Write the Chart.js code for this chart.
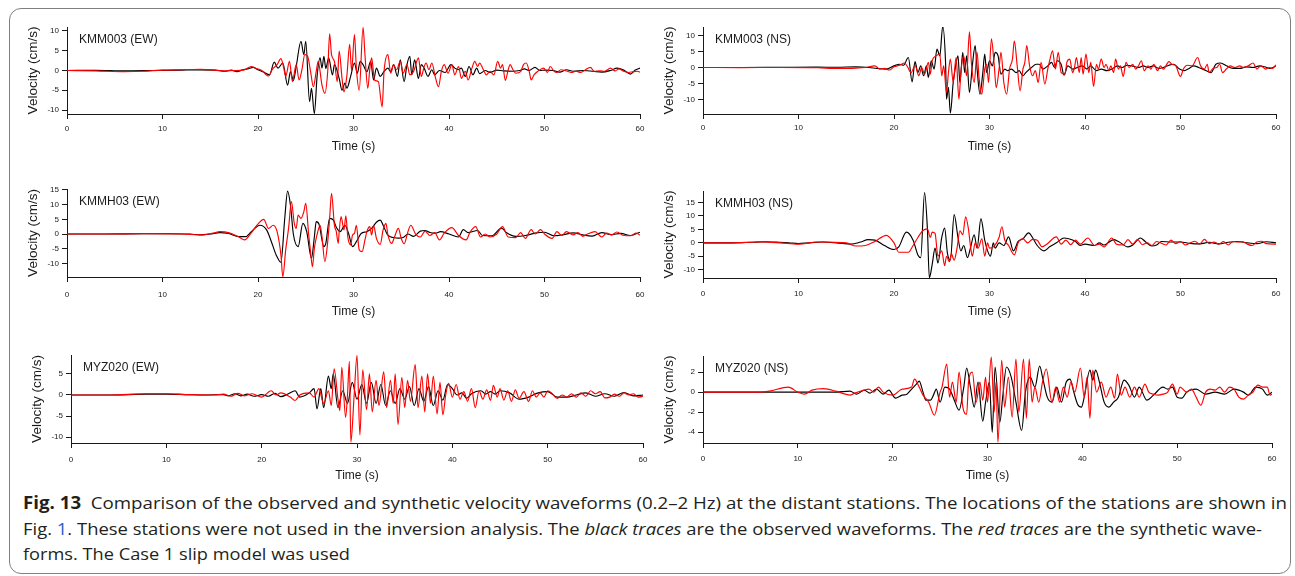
<!DOCTYPE html>
<html>
<head>
<meta charset="utf-8">
<title>Fig. 13 – observed and synthetic velocity waveforms</title>
<script src="https://cdn.jsdelivr.net/npm/chart.js@4.4.1/dist/chart.umd.min.js"></script>
<style>
  html, body { margin: 0; padding: 0; background: #fff; }
  #fig { position: relative; width: 1295px; height: 576px; overflow: hidden; background: #fff; }
  #frame { position: absolute; left: 9px; top: 8px; width: 1282px; height: 566px; box-sizing: border-box;
           border: 1px solid #7f7f7f; border-radius: 12px; }
  #fig canvas { position: absolute; }
  .cap { position: absolute; left: 23px; white-space: nowrap; font-family: "Open Sans", "Noto Sans", sans-serif;
         font-size: 17px; line-height: 22px; color: #231f20; transform-origin: 0 50%; }
  .cap b { font-weight: 700; }
  .cap .lnk { color: #2a62c9; }
</style>
</head>
<body>
<div id="fig">
  <div id="frame"></div>
  <div class="cap" id="cap1" data-w="1264" style="top:492px"><b>Fig. 13</b>&nbsp; Comparison of the observed and synthetic velocity waveforms (0.2–2 Hz) at the distant stations. The locations of the stations are shown in</div>
  <div class="cap" id="cap2" data-w="1239" style="top:518px">Fig. <span class="lnk">1</span>. These stations were not used in the inversion analysis. The <i>black traces</i> are the observed waveforms. The <i>red traces</i> are the synthetic wave-</div>
  <div class="cap" id="cap3" data-w="327" style="top:543px">forms. The Case 1 slip model was used</div>
</div>
<script>
// ---- axis ticks ----------------------------------------------------------
const timeTicks = [0, 10, 20, 30, 40, 50, 60];
const ticksKMM003EW = [-10, -5, 0, 5, 10];
const ticksKMM003NS = [-10, -5, 0, 5, 10];
const ticksKMMH03EW = [-10, -5, 0, 5, 10, 15];
const ticksKMMH03NS = [-10, -5, 0, 5, 10, 15];
const ticksMYZ020EW = [-10, -5, 0, 5];
const ticksMYZ020NS = [-4, -2, 0, 2];

// ---- waveforms: [time (s), velocity (cm/s)] at the turning points ---------
const KMM003_EW_OBS = [[0,0],[3,0.05],[6,-0.1],[9,0],[12,0.1],[14,0.15],[15.5,0.1],[16.5,-0.2],[17.2,0.1],[17.8,-0.3],[18.4,0.2],[18.9,0.4],[19.5,0.8],[20.0,0.2],[20.6,-0.4],[21.2,-1.1],[21.7,2.1],[22.1,0.6],[22.6,1.9],[23.1,-3.7],[23.4,-0.3],[23.7,-2.6],[24.0,1.0],[24.5,7.4],[24.8,4.0],[25.0,7.4],[25.4,-7.9],[25.6,-4.5],[25.9,-10.9],[26.2,-1.1],[26.5,3.2],[26.7,0.6],[26.9,3.6],[27.1,0.5],[27.4,3.2],[27.8,-1.1],[28.0,1.5],[28.5,-2.0],[28.8,-5.0],[29.1,-3.2],[29.3,-4.5],[29.7,-1.5],[30.1,1.9],[30.4,-0.7],[30.7,2.3],[31.0,1.5],[31.4,-0.3],[31.8,2.3],[32.1,-2.4],[32.4,0.6],[32.8,-1.5],[33.2,-0.2],[33.6,0.6],[33.9,-0.3],[34.2,1.5],[34.6,-1.5],[34.9,2.7],[35.3,-2.8],[35.6,1.5],[35.9,3.6],[36.1,-1.1],[36.4,2.7],[36.8,-2.0],[37.1,1.5],[37.4,0.6],[37.8,-1.5],[38.2,0.2],[38.5,-1.1],[39.0,0],[39.6,-0.5],[40.2,1.5],[40.6,0.6],[41.0,0.2],[41.3,0.6],[41.7,-1.5],[42.1,1.0],[42.5,-1.1],[42.9,0.6],[43.2,-0.8],[43.8,0],[44.3,-0.5],[45.0,0.1],[45.7,-0.1],[46.7,-0.2],[47.4,0],[47.9,0.4],[48.4,0],[49.0,0.8],[49.5,0],[50.1,0.1],[50.9,0],[51.6,-0.4],[52.3,0.2],[53.0,-0.2],[54.1,0],[55.1,-0.2],[56.0,-0.4],[56.9,0],[57.6,0.6],[58.3,0.1],[59.0,-0.9],[59.5,0.1],[60,0.6]];
const KMM003_EW_SYN = [[0,0],[3,-0.1],[6,-0.3],[8,-0.2],[10,0.1],[12,0.2],[14,0.3],[15.5,0.1],[16.5,-0.1],[17.5,0.0],[18.5,0.1],[19.3,1.0],[19.8,0.5],[20.4,0],[21.1,-1.4],[21.5,0.3],[22.0,1.5],[22.4,3.0],[22.7,0.6],[22.9,-1.5],[23.3,2.3],[23.6,-2.8],[24.0,1.5],[24.3,-2.4],[24.6,0.2],[24.9,4.0],[25.2,3.6],[25.5,-0.2],[25.8,-4.1],[26.1,-0.2],[26.3,2.3],[26.7,-3.7],[27.0,-5.8],[27.3,-0.2],[27.5,9.3],[27.7,4.0],[28.0,2.3],[28.3,-2.8],[28.5,4.9],[28.8,-2.0],[29.0,-5.4],[29.3,-1.5],[29.6,6.6],[29.8,-0.2],[30.1,9.1],[30.3,0.6],[30.6,-5.0],[31.0,10.9],[31.2,4.0],[31.5,-4.5],[31.7,0.2],[31.9,3.2],[32.2,-2.4],[32.6,-2.8],[33.0,-9.2],[33.2,-0.2],[33.6,4.0],[33.9,-0.7],[34.2,1.5],[34.5,0.2],[34.9,2.3],[35.2,-0.7],[35.6,1.5],[35.9,-1.1],[36.3,-0.2],[36.8,3.2],[37.1,-1.5],[37.4,1.0],[37.6,1.9],[37.9,0.2],[38.2,1.9],[38.6,-2.0],[38.9,-4.1],[39.2,-0.2],[39.5,1.5],[39.9,-0.7],[40.3,1.5],[40.6,-1.1],[41.0,1.0],[41.3,-2.0],[41.7,-0.2],[42.0,-2.4],[42.4,0.6],[42.7,2.3],[43.0,1.0],[43.2,1.9],[43.6,0.2],[43.9,-1.1],[44.3,-0.2],[44.7,-1.1],[45.1,2.3],[45.4,0.6],[45.6,1.5],[45.9,-2.5],[46.2,0.2],[46.4,1.5],[46.7,0.2],[47.0,-0.7],[47.5,-0.3],[47.8,1.5],[48.1,1.9],[48.4,-0.2],[48.6,-2.4],[48.9,-1.1],[49.3,-0.2],[49.9,0.6],[50.3,-0.5],[50.6,1.0],[51.0,-0.2],[51.3,-0.5],[51.7,0.2],[52.4,-0.2],[52.8,-0.5],[53.3,-0.2],[53.8,-0.5],[54.3,0.2],[54.8,0.8],[55.2,-0.2],[55.8,-0.1],[56.3,-0.2],[56.9,0.6],[57.4,-0.1],[57.8,0.4],[58.3,-0.2],[58.8,-0.5],[59.3,-0.3],[59.7,-0.2],[60,-0.4]];

const KMM003_NS_OBS = [[0,0],[4,0],[8,0.05],[12,0.1],[14,0.05],[16,0.2],[17.4,0],[18.2,-0.3],[19.2,-0.5],[20.0,0.5],[20.6,1.0],[21.0,0.7],[21.5,3.1],[21.9,-4.5],[22.2,1.8],[22.5,-1.6],[22.8,0.5],[23.1,-2.6],[23.4,0.5],[23.6,-3.1],[23.9,2.1],[24.2,-0.5],[24.5,5.7],[24.8,3.6],[25.1,12.8],[25.4,1.5],[25.5,-9.9],[25.7,-6.2],[25.9,-14.2],[26.2,-4.7],[26.4,-0.5],[26.7,3.6],[26.9,-4.7],[27.2,4.7],[27.4,-1.6],[27.6,3.6],[27.9,-7.8],[28.2,0.5],[28.5,6.8],[28.7,-0.5],[29.0,-8.3],[29.3,-1.6],[29.5,4.2],[29.7,-1.6],[30.0,2.1],[30.3,0.5],[30.6,4.7],[30.9,3.6],[31.2,-2.1],[31.6,-0.5],[31.9,-1.0],[32.3,-0.5],[32.8,-1.6],[33.1,-1.0],[33.5,-2.6],[33.8,-1.6],[34.4,0],[34.9,1.0],[35.2,1.0],[35.6,-0.5],[36.1,0.5],[36.5,1.6],[36.8,0],[37.1,2.1],[37.5,1.0],[37.8,-2.4],[38.2,0.5],[38.7,-0.5],[39.2,0],[39.7,0.5],[40.2,-0.5],[40.6,0.5],[41.2,-1.0],[41.7,-0.5],[42.3,-1.0],[42.8,-0.5],[43.4,0.5],[43.9,0],[44.4,0.7],[44.9,0.5],[45.6,0],[46.1,0.5],[46.6,0],[47.2,0.5],[47.7,-0.3],[48.2,0],[48.8,0.7],[49.3,1.0],[49.9,-0.5],[50.4,-1.0],[50.9,-0.3],[51.4,0.5],[51.9,0],[52.7,-1.0],[53.2,-1.6],[53.7,1.0],[54.2,1.4],[54.8,0.5],[55.5,-0.3],[56.2,-0.3],[56.9,0.2],[57.6,0],[58.3,0.5],[58.8,0.2],[59.4,-0.3],[60,0.5]];
const KMM003_NS_SYN = [[0,0],[4,-0.05],[8,0],[12,-0.1],[14,-0.3],[16,-0.2],[17.0,0],[18.0,0.5],[18.5,-0.5],[19.0,-0.3],[19.5,-0.8],[20.0,0.2],[20.6,0.7],[21.1,1.4],[21.4,0.3],[21.8,-1.6],[22.2,0.7],[22.6,-2.6],[22.9,0],[23.2,-2.1],[23.6,1.6],[23.8,-2.1],[24.0,2.1],[24.4,3.6],[24.8,4.2],[25.0,-2.6],[25.2,0.5],[25.5,-7.8],[25.7,-1.6],[25.9,2.6],[26.2,-4.7],[26.5,3.1],[26.8,-9.9],[27.0,-1.6],[27.3,3.6],[27.6,-2.6],[27.9,11.1],[28.1,1.6],[28.4,-4.7],[28.7,4.7],[28.9,-3.1],[29.2,-8.3],[29.5,-0.5],[29.7,1.0],[29.9,-4.7],[30.2,8.9],[30.5,0.5],[30.7,-6.3],[31.0,-0.5],[31.2,4.7],[31.5,-4.7],[31.8,-8.3],[32.1,-0.5],[32.4,2.6],[32.6,8.3],[32.9,0.5],[33.2,-7.3],[33.5,-0.5],[33.7,1.6],[33.9,6.8],[34.2,0.5],[34.5,-2.6],[34.8,-1.0],[35.1,-4.7],[35.4,1.6],[35.8,-5.2],[36.1,-0.5],[36.3,2.1],[36.6,5.2],[36.9,-0.5],[37.2,4.7],[37.5,-1.6],[37.9,-2.1],[38.1,1.6],[38.4,2.6],[38.7,-1.6],[38.9,0],[39.1,3.1],[39.4,-1.6],[39.6,3.1],[39.8,-2.1],[40.1,4.2],[40.4,-1.6],[40.6,1.6],[40.9,-5.9],[41.2,1.0],[41.4,-0.5],[41.7,2.6],[42.0,0],[42.2,1.0],[42.5,-1.0],[42.7,0.5],[43.0,-1.6],[43.2,2.6],[43.5,-0.5],[43.7,0.5],[44.0,-2.8],[44.3,1.6],[44.6,0],[45.0,1.0],[45.3,-0.5],[45.6,0.5],[45.9,2.1],[46.2,-1.0],[46.6,0.5],[46.9,-0.5],[47.2,1.0],[47.6,-1.0],[47.9,0.5],[48.2,-0.5],[48.8,1.8],[49.1,1.0],[49.5,0.5],[50.0,-2.8],[50.3,-0.5],[50.7,0.7],[51.2,0.5],[51.8,3.1],[52.1,0.5],[52.5,-0.5],[52.8,1.0],[53.0,-1.6],[53.4,-0.3],[53.8,0],[54.1,1.0],[54.4,-1.6],[54.8,-0.5],[55.2,0.5],[55.7,0],[56.2,0.5],[56.6,0],[57.1,0.5],[57.6,1.4],[58.0,-0.5],[58.4,0.5],[58.9,-0.5],[59.3,0],[59.6,-0.3],[60,0.8]];

const KMMH03_EW_OBS = [[0,0],[4,0],[8,0.1],[10.8,0.1],[12.9,0],[13.9,-0.3],[15.0,0],[16.0,0.5],[16.9,0.2],[18.0,-0.9],[18.7,-0.9],[19.3,0.8],[20.2,3.0],[20.9,1.4],[21.4,-2.6],[21.9,-7.1],[22.4,-9.6],[22.8,5.3],[23.1,14.6],[23.4,9.8],[23.7,0],[24.2,-4.3],[24.7,3.6],[25.1,0.8],[25.6,-8.2],[25.9,-1.0],[26.1,4.2],[26.4,3.2],[26.9,-4.3],[27.1,-3.2],[27.5,5.3],[27.9,4.7],[28.2,2.3],[28.6,0.8],[29.1,3.0],[29.5,0],[29.9,-4.3],[30.3,-2.6],[30.8,0.2],[31.4,0.8],[31.9,1.9],[32.4,4.0],[32.8,4.7],[33.1,3.0],[33.6,-0.4],[34.2,-1.2],[34.7,-1.4],[35.2,-1.2],[35.7,0],[36.3,-0.8],[37.0,1.0],[37.5,1.2],[38.0,0.5],[38.6,0.3],[39.1,0.8],[40.0,0],[41.0,-1.0],[41.5,1.5],[42.0,0.5],[43.0,1.2],[43.5,-0.5],[44.5,-0.6],[45.5,2.0],[46.0,0.5],[47.0,-0.8],[48.0,-0.5],[49.0,0.3],[50.0,0.6],[51.0,-0.6],[52.0,-0.2],[53.0,0.4],[54.0,-0.3],[55.0,-0.7],[56.0,0.5],[57.0,-0.2],[58.0,0.2],[59.0,-0.5],[60,0.6]];
const KMMH03_EW_SYN = [[0,0],[4,0],[8,0.1],[12,0],[14.3,-0.3],[15.3,0.3],[16.0,0.8],[17.0,0.4],[18.0,-1.0],[18.6,-2.0],[19.2,0],[19.9,3.0],[20.6,5.0],[21.1,1.9],[21.6,3.0],[22.0,0.8],[22.4,-7.1],[22.6,-14.5],[22.9,-5.4],[23.2,1.9],[23.5,11.0],[23.8,3.6],[24.0,1.9],[24.2,6.4],[24.5,5.3],[24.8,7.6],[25.0,10.4],[25.3,0],[25.5,-6.0],[25.7,-11.1],[25.9,-4.9],[26.2,0],[26.5,3.0],[26.7,-0.9],[27.0,-9.4],[27.3,-2.6],[27.5,5.3],[27.7,13.8],[28.0,3.0],[28.2,0.8],[28.4,-3.2],[28.5,0.8],[28.7,5.9],[29.0,1.4],[29.2,6.2],[29.4,-0.9],[29.7,-3.7],[29.9,-0.3],[30.1,0.2],[30.3,3.0],[30.6,-5.4],[30.9,-6.0],[31.2,-2.0],[31.4,0.8],[31.7,2.5],[31.9,-0.3],[32.1,3.0],[32.4,-1.5],[32.8,-3.5],[33.1,1.4],[33.4,3.6],[33.6,-0.3],[34.0,-3.2],[34.3,-0.9],[34.7,1.9],[35.0,-1.5],[35.3,-3.3],[35.7,0.8],[36.0,3.0],[36.5,0],[37.0,-1.0],[37.5,1.0],[38.0,-0.5],[38.5,0.5],[39.0,-2.0],[39.5,0.3],[40.3,2.2],[41.0,-0.5],[41.8,-2.0],[42.2,0.6],[42.8,2.5],[43.3,-1.0],[43.8,0],[44.3,-1.0],[45.0,0],[45.6,2.5],[46.2,-1.0],[47.0,-1.2],[47.5,0.5],[48.0,-1.5],[48.6,1.5],[49.0,0],[49.6,1.5],[50.0,0],[50.8,-1.5],[51.3,0.8],[51.8,-0.5],[52.3,0.8],[53.0,-0.3],[53.5,0.5],[54.0,-0.8],[54.5,0],[55.3,0.8],[56.0,-1.0],[56.5,0.3],[57.0,-0.3],[57.6,0.7],[58.2,-0.4],[59.0,-0.6],[59.6,0.3],[60,-0.4]];

const KMMH03_NS_OBS = [[0,0],[3,0],[5,0.2],[6.5,0.4],[8,0.2],[9,0],[10,-0.3],[11,0],[12.5,0.3],[14,0],[15.5,-0.5],[16.5,0.3],[17.3,1.2],[18,1.0],[19,-1.0],[20,-2.5],[20.5,-1.5],[21.3,4.0],[22,1.0],[22.5,-4.5],[22.8,-5.5],[23.2,18.7],[23.5,5],[23.7,-13],[24,-8],[24.3,-2],[24.6,-7.5],[25,2],[25.3,5.5],[25.6,-4],[25.9,-6.5],[26.3,10.5],[26.7,2],[27,-3],[27.3,-1],[27.7,-5.5],[28,-2],[28.4,3],[28.7,-2],[29.1,9],[29.5,1],[29.8,-3],[30.1,-5],[30.4,0],[30.6,-2],[31,0],[31.5,-1],[32,2.2],[32.5,-3],[33,0.5],[33.5,1.5],[34.1,3.7],[34.5,2],[35,-1],[35.7,-3.0],[36.3,-1.5],[37,0],[37.8,1.8],[38.3,1.5],[39,0.5],[39.5,-1],[40,-0.5],[41,-1],[41.5,0],[42,-0.8],[43,1.2],[43.5,0.5],[44.5,-1.5],[45,-0.8],[45.8,1.8],[46.3,0.5],[47,-1.2],[47.5,-0.8],[48,0.5],[49,0.3],[50,0.3],[51,-0.2],[52,-0.4],[53,0.2],[54,-0.4],[55,0.2],[56,0.5],[57,0],[58,-0.3],[59,0.4],[60,0]];
const KMMH03_NS_SYN = [[0,0],[3,0],[6,0.3],[8,0],[10,-0.5],[12,0.3],[13.5,0.2],[15,0],[16,-1.2],[17,-1],[18,0.5],[19.2,2.8],[20,0],[20.5,-3.5],[21.5,-3.5],[22,-1],[22.5,2],[23,4.5],[23.5,5.2],[23.8,2],[24,4],[24.3,3.5],[24.6,-5],[25,-3],[25.3,-8.5],[25.5,-5],[25.8,-7],[26,-4],[26.3,-6.5],[26.6,-2],[26.9,4.5],[27.2,3],[27.5,9.7],[27.8,5],[28,-1],[28.2,-5],[28.5,0],[28.8,-2],[29.2,1.5],[29.5,-5],[29.8,0],[30,-2],[30.5,-1.2],[31,2],[31.3,6],[31.6,1],[32,-1],[32.6,-4.5],[33,0],[33.5,1.5],[34,0],[34.5,1.3],[35,1],[35.5,-1.5],[36,-0.5],[37,2.2],[37.5,-0.5],[38,1],[38.5,-0.7],[39,1.0],[39.5,-0.5],[40.3,1.8],[41,-1],[41.5,-0.5],[42,-1.5],[42.8,1.8],[43.3,-0.5],[44,-0.8],[44.5,1.2],[45,-0.5],[45.5,1.3],[46,-0.7],[46.5,0],[47,-1.0],[47.5,0.5],[48.5,-0.8],[49,1.0],[49.5,-0.3],[50,0.5],[50.5,-0.8],[51.5,0.6],[52,-0.5],[52.5,1.3],[53,-0.3],[53.5,0.3],[54,-0.5],[54.5,0.5],[55,-0.8],[55.5,0.5],[56,0.3],[56.5,0.4],[57,-0.5],[57.5,-1.0],[58,0.3],[58.5,0.6],[59,-0.3],[60,-0.5]];

const MYZ020_EW_OBS = [[0,0],[4,0],[8,0.2],[10,0.2],[12,0.1],[14,0],[16,0.1],[16.5,-0.2],[17.2,0.3],[17.8,-0.2],[18.5,0.2],[19.2,-0.3],[20,0.1],[20.7,-0.3],[21.4,0.4],[22,-0.4],[22.8,0.3],[23.5,1.0],[24,-0.5],[25,0.5],[25.5,1.5],[25.8,-3.3],[26.2,1.5],[26.5,-3],[27,4.5],[27.3,1.5],[27.5,5],[28,-3],[28.5,1],[29,-2],[29.5,3],[30,-1],[30.5,2.5],[31,-2],[31.5,3],[32,-2],[32.5,2.5],[33,-2.5],[33.5,1],[34,-2],[34.5,1.5],[35,-1],[35.5,2],[36,-2.5],[36.5,1.5],[37,-1.5],[37.5,2],[38,-2.5],[38.5,1],[39,-1.2],[39.5,2.5],[40,1.5],[40.5,0],[41,0.5],[41.5,-0.8],[42,0.3],[43,1.0],[43.5,0.2],[44,0.8],[44.5,0.2],[45,1.0],[46,0.5],[47,-1.0],[48,-0.5],[49,0.5],[50,0.8],[51,-0.5],[52,-0.5],[53,0],[54,0.5],[55,-0.3],[56,0.3],[57,-0.3],[58,0.6],[59,-0.2],[60,0]];
const MYZ020_EW_SYN = [[0,0],[4,0],[8,0.3],[10,0.3],[12,0.1],[15,0],[16,0.2],[16.8,-0.3],[17.5,0.4],[18.2,-0.2],[19,0.3],[20,-0.5],[21,1.0],[21.5,0],[22,0.5],[23,-0.5],[23.5,-1.3],[24,0],[25,0.5],[25.5,-0.5],[26,1.5],[26.5,-2],[27,1],[27.3,-2.5],[27.6,6.2],[28.0,-1],[28.2,-3.7],[28.4,6.6],[28.8,-5.3],[29.0,0],[29.2,8.0],[29.35,-11.2],[29.7,0],[30.0,9.4],[30.3,-9.5],[30.6,6.0],[31.0,-3.5],[31.3,5.0],[31.6,-4.0],[32.0,3.5],[32.3,-2.5],[32.8,5.5],[33.1,-3],[33.5,3.5],[33.8,-2],[34.0,5.0],[34.3,-7.0],[34.7,4.2],[35.0,-3],[35.3,3.5],[35.6,-1.5],[36.1,7.2],[36.4,-3],[36.8,4.5],[37.1,-4],[37.4,5.0],[37.7,-2],[38.0,4.5],[38.4,-4.5],[38.7,3],[39.0,-4.7],[39.3,0],[39.6,2.8],[40.0,-0.5],[40.4,2.5],[40.8,-1.0],[41.2,0.8],[41.6,-1.5],[42,1.5],[42.4,-3.0],[42.8,1.0],[43.2,-1.0],[43.6,1.2],[44,-1.3],[44.3,2.3],[44.7,-0.5],[45,1.5],[45.4,-1.2],[45.8,1.0],[46.2,-1.5],[46.6,1.2],[47,-0.8],[47.5,0.8],[48,-1.5],[48.4,1.0],[48.8,-0.5],[49.2,0.5],[49.6,-0.5],[50,1.0],[50.4,0.5],[51,-0.8],[51.5,0],[52,-0.5],[52.5,0.3],[53,-0.5],[53.5,0.5],[54,-0.3],[54.5,1.0],[55,0.3],[55.5,0.8],[56,-0.7],[56.5,-0.5],[57,0.2],[57.5,-0.3],[58,0.5],[58.5,0],[59,0.3],[59.5,-0.5],[60,-0.3]];

const MYZ020_NS_OBS = [[0,0],[5,0],[10,0],[14,0],[15.5,0.1],[16.2,-0.2],[17,0.2],[17.6,-0.1],[18.3,0.3],[19,-0.2],[19.6,0.2],[20.3,-0.6],[21,-0.3],[21.5,-0.2],[22,0.3],[22.5,0.8],[22.8,1.1],[23.2,0],[23.5,-0.8],[24,-0.8],[24.3,-0.3],[24.6,0.3],[25,-1.0],[25.5,0.5],[26,0.3],[26.5,-0.8],[27,-1.8],[27.5,0.5],[27.8,2.4],[28.2,0.5],[28.6,-1.5],[29,1.0],[29.5,-2.9],[29.8,-1.0],[30.2,1.0],[30.5,-4.0],[30.8,2.5],[31.3,-3.0],[31.6,-0.5],[32.0,2.5],[32.5,1.5],[33.0,-1.0],[33.6,-3.8],[34.0,0],[34.5,1.5],[35,0.5],[35.5,2.6],[35.8,1.5],[36.3,-0.5],[36.8,-1.0],[37.3,0.5],[37.8,-1.0],[38.3,1.0],[38.7,1.3],[39.1,0],[39.5,-1.2],[39.9,-1.5],[40.2,-0.5],[40.8,2.2],[41.1,1.2],[41.4,2.2],[41.8,1.0],[42.3,-1.0],[42.8,-1.5],[43.3,-1.0],[43.8,-0.5],[44.4,1.2],[44.9,0.7],[45.5,-0.5],[46,0.5],[46.8,-0.8],[47.5,-0.3],[48.5,0.5],[49,0.3],[49.5,0.5],[50,-0.5],[50.5,-0.6],[51,0],[52,0.3],[53,-0.2],[54,0],[55,-0.2],[56,0.3],[56.5,0.2],[57,0],[57.5,-0.3],[58.3,0.5],[59,0.3],[59.5,-0.3],[60,0]];
const MYZ020_NS_SYN = [[0,0],[6,0],[7,0.1],[9,0.5],[10,0],[10.7,-0.2],[11.5,0.2],[12.7,0.35],[14,0.1],[15,-0.2],[15.5,-0.3],[16,-0.1],[17,0.2],[17.5,0.3],[18,0],[18.5,0.5],[19,0],[20,-0.3],[21,0.3],[22,0.5],[22.3,1.3],[22.8,0.5],[23.2,-0.3],[23.8,-1.0],[24.4,-2.3],[25,0],[25.2,0.5],[25.7,2.8],[26.0,-0.5],[26.3,1.0],[26.7,-1.0],[27.0,2],[27.4,-1.5],[27.8,-2.2],[28.0,1.0],[28.4,2.0],[28.8,-1.0],[29.2,1.0],[29.5,-0.8],[29.8,1.5],[30.0,-1.0],[30.4,3.5],[30.7,-2.0],[30.9,1.0],[31.1,-5.0],[31.5,3.2],[31.8,-1.5],[32.2,1.5],[32.6,-2.5],[33.0,3.3],[33.3,-2.0],[33.8,3.3],[34.1,-2.6],[34.4,3.3],[34.7,-1.0],[35.0,0.5],[35.4,-1.0],[35.8,1.0],[36.2,2.3],[36.8,-1.0],[37.2,0.5],[37.6,-1.0],[38.0,0.5],[38.4,-0.5],[38.8,1.0],[39.2,0],[39.8,2.4],[40.2,-0.5],[40.5,1.5],[40.8,-2.6],[41.1,2.2],[41.5,0],[42,1.0],[42.5,-0.5],[43,0.5],[43.4,-0.6],[43.7,1.8],[44.1,-0.3],[44.5,0.5],[45,-0.5],[45.5,0.5],[46,-0.5],[46.6,0.8],[47,0],[47.5,-0.2],[48,-0.3],[48.5,-0.2],[49,0],[49.5,0.8],[50,-0.2],[50.3,0.5],[51,0],[51.5,0.3],[52,-0.5],[52.5,-1.3],[53,0],[53.5,0.3],[54,0.2],[54.5,0.5],[55,0],[55.5,0.5],[56,0.3],[56.5,-0.5],[57,-0.7],[57.5,-0.3],[58,0],[58.5,0.7],[59,0.5],[59.5,0.5],[59.8,-0.3],[60,-0.2]];

// ---- panel layout ----------------------------------------------------------
// box: canvas placement on the page; area: plot rectangle in page pixels
const panels = [
  { name: 'KMM003 (EW)', obs: KMM003_EW_OBS, syn: KMM003_EW_SYN, yTicks: ticksKMM003EW, yMin: -11, yMax: 11,
    box: { x: 14, y: 14, w: 640, h: 146 }, area: { l: 67, r: 640, t: 27, b: 114 }, tickPad: 5, axisH: 40 },
  { name: 'KMM003 (NS)', obs: KMM003_NS_OBS, syn: KMM003_NS_SYN, yTicks: ticksKMM003NS, yMin: -14.5, yMax: 12.6,
    box: { x: 656, y: 14, w: 634, h: 146 }, area: { l: 703, r: 1276, t: 27, b: 114 }, tickPad: 4, axisH: 40 },
  { name: 'KMMH03 (EW)', obs: KMMH03_EW_OBS, syn: KMMH03_EW_SYN, yTicks: ticksKMMH03EW, yMin: -14.6, yMax: 15.3,
    box: { x: 14, y: 176, w: 640, h: 148 }, area: { l: 67, r: 640, t: 189, b: 277 }, tickPad: 8, axisH: 42 },
  { name: 'KMMH03 (NS)', obs: KMMH03_NS_OBS, syn: KMMH03_NS_SYN, yTicks: ticksKMMH03NS, yMin: -13.1, yMax: 19.3,
    box: { x: 656, y: 176, w: 634, h: 148 }, area: { l: 703, r: 1276, t: 191, b: 278 }, tickPad: 5.5, axisH: 41 },
  { name: 'MYZ020 (EW)', obs: MYZ020_EW_OBS, syn: MYZ020_EW_SYN, yTicks: ticksMYZ020EW, yMin: -11.4, yMax: 9.5,
    box: { x: 14, y: 340, w: 640, h: 148 }, area: { l: 71, r: 644, t: 355, b: 443 }, tickPad: 6.5, axisH: 40 },
  { name: 'MYZ020 (NS)', obs: MYZ020_NS_OBS, syn: MYZ020_NS_SYN, yTicks: ticksMYZ020NS, yMin: -5.07, yMax: 3.6,
    box: { x: 656, y: 340, w: 634, h: 148 }, area: { l: 703, r: 1272, t: 356, b: 443 }, tickPad: 6, axisH: 40 }
];

const AXIS_W = 42;
const FONT = '"Liberation Sans", Arial, Helvetica, sans-serif';
const INK = '#1a1a1a';

// station name written inside the upper-left corner of each plot
const stationLabel = {
  id: 'stationLabel',
  afterDraw(chart, args, opts) {
    const { ctx, chartArea } = chart;
    ctx.save();
    ctx.font = '12px ' + FONT;
    ctx.fillStyle = INK;
    ctx.textBaseline = 'middle';
    ctx.textAlign = 'left';
    ctx.fillText(opts.text, chartArea.left + 12, chartArea.top + 12.5);
    ctx.restore();
  }
};

const toXY = pts => pts.map(([t, v]) => ({ x: t, y: v }));

function drawPanel(p) {
  const fig = document.getElementById('fig');
  const cv = document.createElement('canvas');
  cv.width = p.box.w; cv.height = p.box.h;
  cv.style.left = p.box.x + 'px'; cv.style.top = p.box.y + 'px';
  cv.style.width = p.box.w + 'px'; cv.style.height = p.box.h + 'px';
  fig.appendChild(cv);

  const axisLine = { display: true, color: INK, width: 1 };
  const tickMarks = { drawOnChartArea: false, drawTicks: true, tickLength: 5, color: INK, lineWidth: 1 };

  new Chart(cv, {
    type: 'line',
    data: {
      datasets: [
        { label: 'Observed', data: toXY(p.obs), borderColor: '#000000', order: 1 },
        { label: 'Synthetic', data: toXY(p.syn), borderColor: '#ff0000', order: 0 }
      ]
    },
    options: {
      responsive: false,
      maintainAspectRatio: false,
      animation: false,
      devicePixelRatio: 1,
      events: [],
      elements: {
        point: { radius: 0 },
        line: { borderWidth: 1.15, cubicInterpolationMode: 'monotone', fill: false }
      },
      layout: {
        padding: {
          left: p.area.l - p.box.x - AXIS_W,
          right: p.box.x + p.box.w - p.area.r,
          top: p.area.t - p.box.y,
          bottom: p.box.y + p.box.h - p.area.b - p.axisH
        }
      },
      plugins: {
        legend: { display: false },
        tooltip: { enabled: false },
        title: { display: false },
        stationLabel: { text: p.name }
      },
      scales: {
        x: {
          type: 'linear', min: 0, max: 60,
          afterBuildTicks: ax => { ax.ticks = timeTicks.map(v => ({ value: v })); },
          afterFit: ax => { ax.height = p.axisH; },
          border: axisLine,
          grid: tickMarks,
          ticks: { color: INK, font: { family: FONT, size: 8 }, padding: p.tickPad, maxRotation: 0, autoSkip: false },
          title: { display: true, text: 'Time (s)', color: INK, font: { family: FONT, size: 12 }, padding: { top: 0, bottom: 0 } }
        },
        y: {
          type: 'linear', min: p.yMin, max: p.yMax,
          afterBuildTicks: ax => { ax.ticks = p.yTicks.map(v => ({ value: v })); },
          afterFit: ax => { ax.width = AXIS_W; },
          border: axisLine,
          grid: tickMarks,
          ticks: { color: INK, font: { family: FONT, size: 8 }, padding: 3, autoSkip: false },
          title: { display: true, text: 'Velocity (cm/s)', color: INK, font: { family: FONT, size: 13.5 }, padding: { top: 0, bottom: 0 } }
        }
      }
    },
    plugins: [stationLabel]
  });
}

panels.forEach(drawPanel);

// stretch each caption line to its measured column width
function fitCaption() {
  document.querySelectorAll('.cap').forEach(el => {
    el.style.transform = 'none';
    const w = el.getBoundingClientRect().width;
    const target = parseFloat(el.dataset.w);
    if (w > 0) el.style.transform = 'scaleX(' + (target / w).toFixed(4) + ')';
  });
}
fitCaption();
if (document.fonts && document.fonts.ready) document.fonts.ready.then(fitCaption);
</script>
</body>
</html>
